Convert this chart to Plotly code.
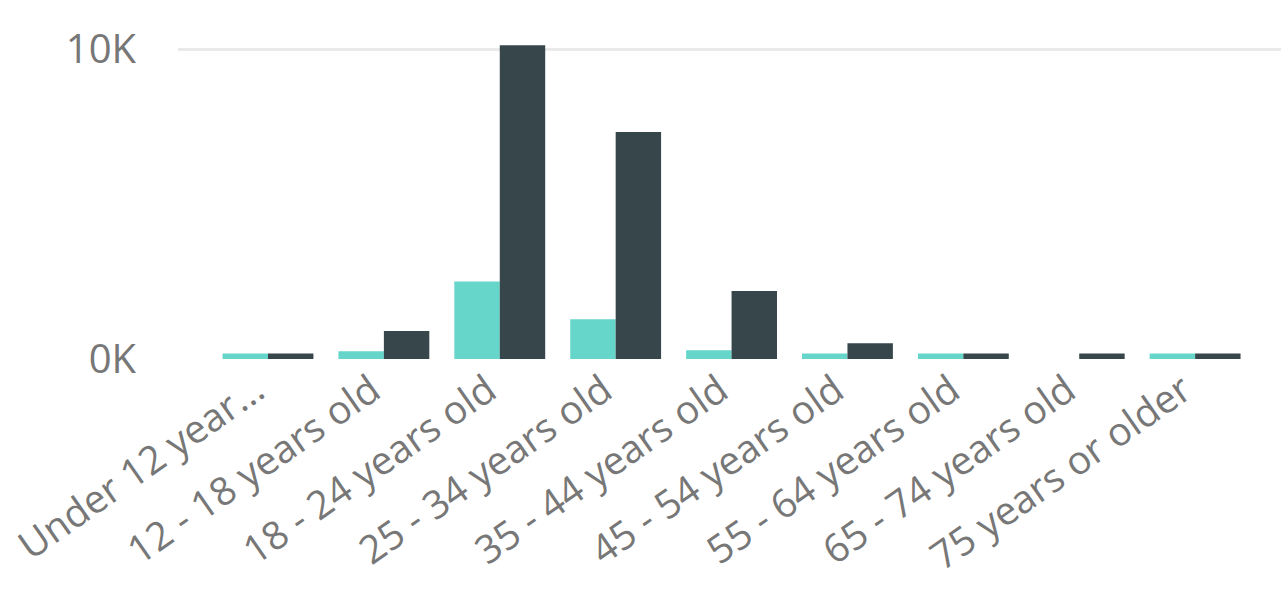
import plotly.graph_objects as go

# Age groups on the category axis
age_groups = [
    "Under 12 year...",
    "12 - 18 years old",
    "18 - 24 years old",
    "25 - 34 years old",
    "35 - 44 years old",
    "45 - 54 years old",
    "55 - 64 years old",
    "65 - 74 years old",
    "75 years or older",
]

# Two series per age group
series_a = [180, 250, 2500, 1280, 280, 180, 180, 0, 180]
series_b = [180, 900, 10120, 7320, 2190, 510, 180, 180, 180]

y_tick_vals = [0, 10000]
y_tick_text = ["0K", "10K"]

TEAL = "#66D5CA"
SLATE = "#37464B"
TEXT = "#777777"
GRID = "#EAEAEA"

x_idx = list(range(len(age_groups)))

fig = go.Figure()
fig.add_trace(go.Bar(x=x_idx, y=series_a, marker=dict(color=TEAL, line=dict(width=0)),
                     name="A"))
fig.add_trace(go.Bar(x=x_idx, y=series_b, marker=dict(color=SLATE, line=dict(width=0)),
                     name="B"))

fig.update_layout(
    width=1281,
    height=599,
    margin=dict(l=178, r=0, t=33, b=240),
    paper_bgcolor="white",
    plot_bgcolor="white",
    barmode="group",
    bargap=0.216,
    bargroupgap=0,
    showlegend=False,
    font=dict(family="Open Sans, Noto Sans, sans-serif", color=TEXT),
)

fig.update_xaxes(
    range=[-0.7765, 8.741],
    tickmode="array",
    tickvals=x_idx,
    ticktext=age_groups,
    tickangle=-35,
    tickfont=dict(size=39, color=TEXT),
    showgrid=False,
    zeroline=False,
    showline=False,
    ticks="",
    ticklabelshift=-12,
    ticklabelstandoff=0,
)

fig.update_yaxes(
    range=[0, 10516],
    tickmode="array",
    tickvals=y_tick_vals,
    ticktext=y_tick_text,
    tickfont=dict(size=40, color=TEXT),
    showgrid=True,
    gridcolor=GRID,
    gridwidth=3,
    zeroline=False,
    showline=False,
    ticks="outside",
    ticklen=33,
    tickcolor="rgba(0,0,0,0)",
)

fig.write_html("out.html")
